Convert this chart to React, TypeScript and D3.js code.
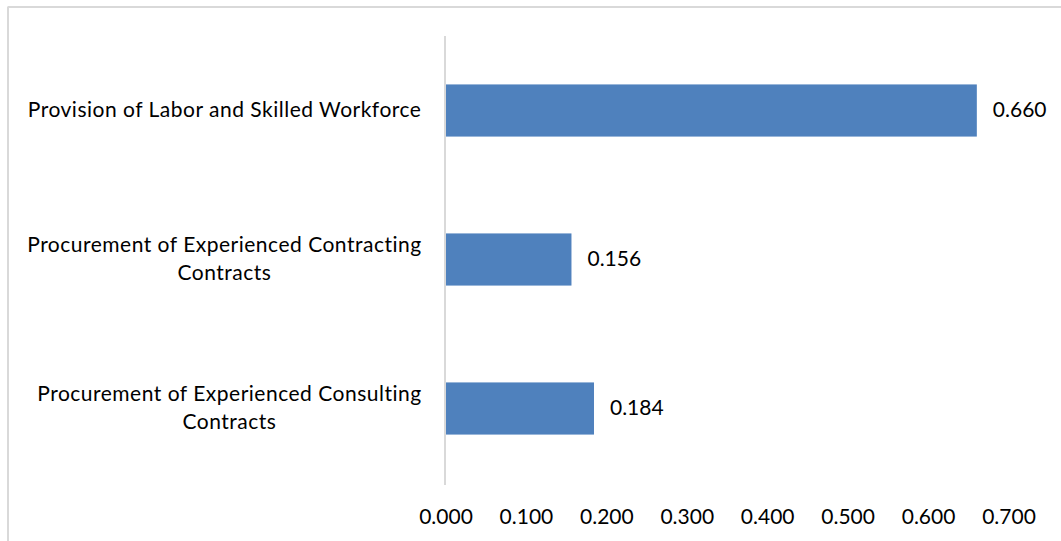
import React from "react";
import * as d3 from "d3";

const categories = [
  ["Provision of Labor and Skilled Workforce"],
  ["Procurement of Experienced Contracting", "Contracts"],
  ["Procurement of Experienced Consulting", "Contracts"],
];
const values = [0.66, 0.156, 0.184];
const ticks = [0, 0.1, 0.2, 0.3, 0.4, 0.5, 0.6, 0.7];

const W = 1061;
const H = 541;
const FONT = "Lato, sans-serif";
const FS = 21;
const LS = 0.5;

let ctx: CanvasRenderingContext2D | null = null;
function measure(s: string) {
  if (!ctx) ctx = document.createElement("canvas").getContext("2d");
  if (!ctx) return s.length * FS * 0.5;
  ctx.font = `${FS}px Lato`;
  return ctx.measureText(s).width + LS * s.length;
}

export default function App() {
  const x = d3.scaleLinear().domain([0, 0.7]).range([446, 1009]);
  const y = d3
    .scaleBand<number>()
    .domain(d3.range(categories.length))
    .range([36, 483])
    .paddingInner(0.65)
    .paddingOuter(0.325);
  const fmt = d3.format(".3f");
  const labelRight = 422;
  return (
    <svg
      width={W}
      height={H}
      style={{ position: "absolute", left: 0, top: 0, background: "#fff" }}
    >
      <line x1={7.5} y1={7} x2={W} y2={7} stroke="#d9d9d9" strokeWidth={2} />
      <line x1={8} y1={7} x2={8} y2={H} stroke="#d9d9d9" strokeWidth={2} />
      {values.map((v, i) => {
        const lines = categories[i];
        const maxW = Math.max(...lines.map(measure));
        const cx = labelRight - maxW / 2;
        return (
          <g key={i}>
            <rect
              x={x(0)}
              y={y(i)}
              width={x(v) - x(0)}
              height={y.bandwidth()}
              fill="#4f81bd"
            />
            <text
              x={x(v) + 16}
              y={y(i)! + y.bandwidth() / 2}
              dy="0.32em"
              fontFamily={FONT}
              fontSize={FS}
              fill="#000"
            >
              {fmt(v)}
            </text>
            {lines.map((line, j) => {
              const n = lines.length;
              const cy = y(i)! + y.bandwidth() / 2 + (j - (n - 1) / 2) * 28;
              return (
                <text
                  key={j}
                  x={cx}
                  y={cy}
                  dy="0.32em"
                  textAnchor="middle"
                  fontFamily={FONT}
                  fontSize={FS}
                  letterSpacing={LS}
                  fill="#000"
                >
                  {line}
                </text>
              );
            })}
          </g>
        );
      })}
      <line x1={445} y1={36} x2={445} y2={485} stroke="#d9d9d9" strokeWidth={2} />
      {ticks.map((t) => (
        <text
          key={t}
          x={x(t)}
          y={517}
          dy="0.32em"
          textAnchor="middle"
          fontFamily={FONT}
          fontSize={FS}
          fill="#000"
        >
          {fmt(t)}
        </text>
      ))}
    </svg>
  );
}
